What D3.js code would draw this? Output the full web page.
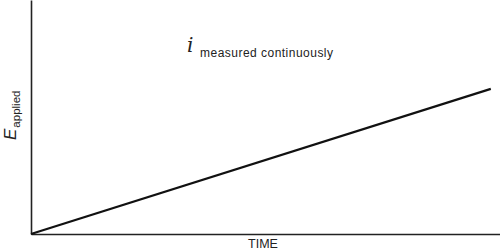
<!DOCTYPE html>
<html>
<head>
<meta charset="utf-8">
<script src="https://cdn.jsdelivr.net/npm/d3@7"></script>
<style>
  body { margin: 0; background: #fff; }
  svg { display: block; font-family: "Liberation Sans", Arial, sans-serif; }
</style>
</head>
<body>
<svg id="svg1"></svg>
<script>
// data: applied potential ramps linearly with time
const times = [0, 100];
const potentials = [0, 62];
const xLabel = "TIME";
const yLabelMain = "E";
const yLabelSub = "applied";
const noteMain = "i";
const noteSub = "measured continuously";

const width = 500;
const height = 250;
const margin = {top: 0, right: 0, bottom: 16, left: 31};

const svg = d3.select('#svg1')
    .attr('width', width)
    .attr('height', height);

// scales
const x = d3.scaleLinear()
    .domain([0, 102])
    .range([margin.left, width - margin.right]);
const y = d3.scaleLinear()
    .domain([0, 100])
    .range([height - margin.bottom, margin.top]);

// axes, no ticks
svg.append("g")
    .attr("transform", "translate(0," + y(0) + ")")
    .call(d3.axisBottom(x).ticks(0).tickSizeOuter(0))
    .call(g => g.select(".domain").attr("stroke", "#222").attr("stroke-width", 1.6));
svg.append("g")
    .attr("transform", "translate(" + x(0) + ",0)")
    .call(d3.axisLeft(y).ticks(0).tickSizeOuter(0))
    .call(g => g.select(".domain").attr("stroke", "#222").attr("stroke-width", 1.6));

// the ramp
const line = d3.line()
    .x(function(d, i) { return x(times[i]); })
    .y(function(d) { return y(d); });
svg.append("path")
    .datum(potentials)
    .attr("d", line)
    .attr("fill", "none")
    .attr("stroke", "#111")
    .attr("stroke-width", 2.2);

// x label
svg.append("text")
    .attr("x", 263)
    .attr("y", 248)
    .attr("text-anchor", "middle")
    .attr("font-size", 12.5)
    .attr("fill", "#222")
    .text(xLabel);

// y label, rotated
const yl = svg.append("text")
    .attr("transform", "translate(16,140) rotate(-90)")
    .attr("fill", "#222");
yl.append("tspan")
    .attr("font-size", 17)
    .attr("font-style", "italic")
    .text(yLabelMain);
yl.append("tspan")
    .attr("font-size", 11.5)
    .attr("dy", 4)
    .attr("dx", 1)
    .text(yLabelSub);

// annotation
const note = svg.append("text")
    .attr("x", 187)
    .attr("y", 52)
    .attr("fill", "#222");
note.append("tspan")
    .attr("font-size", 20)
    .attr("font-style", "italic")
    .attr("font-family", "'DejaVu Serif', serif")
    .text(noteMain);
note.append("tspan")
    .attr("x", 200)
    .attr("dy", 5)
    .attr("font-size", 12)
    .attr("textLength", 133)
    .text(noteSub);
</script>
</body>
</html>
